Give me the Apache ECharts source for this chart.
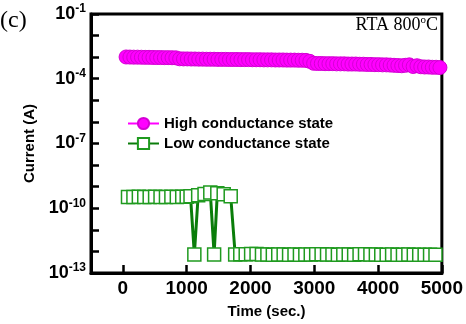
<!DOCTYPE html>
<html>
<head>
<meta charset="utf-8">
<title>RTA 800C retention</title>
<script src="https://cdn.jsdelivr.net/npm/echarts@6/dist/echarts.min.js"></script>
<style>
	html, body { margin: 0; padding: 0; background: #fff; }
	#main { width: 466px; height: 324px; }
</style>
</head>
<body>
<div id="main"></div>
<script>
// 数据
var xTicks = [0, 1000, 2000, 3000, 4000, 5000];

var highTime = [50, 110, 170, 230, 290, 350, 410, 470, 530, 590, 650, 710, 770, 830, 890, 950,
	1010, 1070, 1130, 1190, 1250, 1310, 1370, 1430, 1490, 1550, 1610, 1670, 1730, 1790, 1850, 1910, 1970,
	2030, 2090, 2150, 2210, 2270, 2330, 2390, 2450, 2510, 2570, 2630, 2690, 2750, 2810, 2870, 2930, 2990,
	3050, 3110, 3170, 3230, 3290, 3350, 3410, 3470, 3530, 3590, 3650, 3710, 3770, 3830, 3890, 3950,
	4010, 4070, 4130, 4190, 4250, 4310, 4370, 4430, 4490, 4550, 4610, 4670, 4730, 4790, 4850, 4910, 4970];
var highCurrent = [1.02e-3, 1.01e-3, 1.0e-3, 1.0e-3, 9.9e-4, 9.8e-4, 9.8e-4, 9.7e-4, 9.6e-4, 9.6e-4, 9.5e-4, 9.5e-4, 9.4e-4, 9.3e-4, 8.4e-4, 8.3e-4,
	8.3e-4, 8.2e-4, 8.2e-4, 8.1e-4, 8.1e-4, 8.0e-4, 8.0e-4, 8.0e-4, 7.9e-4, 7.9e-4, 7.9e-4, 7.8e-4, 7.8e-4, 7.8e-4, 7.7e-4, 7.7e-4, 7.7e-4,
	7.6e-4, 7.6e-4, 7.6e-4, 7.5e-4, 7.5e-4, 7.5e-4, 7.4e-4, 7.4e-4, 7.4e-4, 7.3e-4, 7.3e-4, 7.3e-4, 7.2e-4, 7.2e-4, 7.1e-4, 6.4e-4, 5.2e-4,
	5.1e-4, 5.1e-4, 5.0e-4, 5.0e-4, 5.0e-4, 4.9e-4, 4.9e-4, 4.9e-4, 4.8e-4, 4.8e-4, 4.8e-4, 4.7e-4, 4.7e-4, 4.6e-4, 4.6e-4, 4.5e-4,
	4.5e-4, 4.4e-4, 4.4e-4, 4.3e-4, 4.2e-4, 4.1e-4, 4.0e-4, 4.2e-4, 4.4e-4, 3.7e-4, 4.0e-4, 3.6e-4, 3.5e-4, 3.5e-4, 3.4e-4, 3.4e-4, 3.3e-4];

var lowTime = [80, 165, 250, 335, 420, 505, 590, 675, 760, 845, 930,
	1000, 1060, 1120, 1180, 1280, 1370, 1430, 1480, 1580, 1690, 1760,
	1840, 1925, 2010, 2095, 2180, 2265, 2350, 2435, 2520, 2605, 2690, 2775, 2860, 2945,
	3030, 3115, 3200, 3285, 3370, 3455, 3540, 3625, 3710, 3795, 3880, 3965,
	4050, 4135, 4220, 4305, 4390, 4475, 4560, 4645, 4730, 4815, 4900];
var lowCurrent = [3.3e-10, 3.3e-10, 3.4e-10, 3.3e-10, 3.3e-10, 3.4e-10, 3.3e-10, 3.3e-10, 3.4e-10, 3.3e-10, 3.4e-10,
	3.4e-10, 3.6e-10, 7.2e-13, 4.0e-10, 4.6e-10, 5.4e-10, 7.2e-13, 5.0e-10, 4.4e-10, 3.6e-10, 7.2e-13,
	7.4e-13, 7.3e-13, 7.6e-13, 7.5e-13, 7.2e-13, 7.2e-13, 7.1e-13, 7.2e-13, 7.2e-13, 7.1e-13, 7.2e-13, 7.1e-13, 7.2e-13, 7.2e-13,
	7.4e-13, 7.3e-13, 7.2e-13, 7.2e-13, 7.1e-13, 7.2e-13, 7.2e-13, 7.1e-13, 7.4e-13, 7.3e-13, 7.2e-13, 7.2e-13,
	7.1e-13, 7.1e-13, 7.2e-13, 7.1e-13, 7.1e-13, 7.2e-13, 7.1e-13, 7.1e-13, 7.1e-13, 7.0e-13, 7.1e-13];

function pairs(xs, ys) {
	var out = [];
	for (var i = 0; i < xs.length; i++) {
		out.push([xs[i], ys[i]]);
	}
	return out;
}

var chart = echarts.init(document.getElementById('main'), null, { renderer: 'canvas' });
var font = 'Liberation Sans';
var serif = 'Liberation Serif';

var option = {
	animation: false,
	backgroundColor: '#fff',
	grid: {
		left: 91,
		right: 21,
		top: 14,
		bottom: 51,
		show: true,
		borderColor: '#000',
		borderWidth: 3,
		backgroundColor: 'transparent'
	},
	legend: {
		orient: 'vertical',
		left: 127,
		top: 116,
		padding: 0,
		itemWidth: 31,
		itemHeight: 14,
		itemGap: 5,
		textStyle: {
			fontFamily: font,
			fontWeight: 'bold',
			fontSize: 15,
			color: '#000'
		},
		data: ['High conductance state', 'Low conductance state']
	},
	graphic: [
		{
			type: 'text',
			left: 0,
			top: 9,
			style: {
				text: '(c)',
				fontFamily: serif,
				fontSize: 24,
				fill: '#000'
			}
		},
		{
			type: 'text',
			right: 28,
			top: 15,
			style: {
				text: 'RTA 800{s|o}C',
				fontFamily: serif,
				fontSize: 18,
				fill: '#000',
				rich: {
					s: {
						fontFamily: serif,
						fontSize: 11,
						verticalAlign: 'top',
						lineHeight: 20
					}
				}
			}
		}
	],
	xAxis: {
		type: 'value',
		min: -500,
		max: 5000,
		name: 'Time (sec.)',
		nameLocation: 'middle',
		nameGap: 31,
		nameTextStyle: {
			fontFamily: font,
			fontWeight: 'bold',
			fontSize: 15,
			color: '#000'
		},
		splitLine: { show: false },
		axisLine: { onZero: false, lineStyle: { color: '#000', width: 3 } },
		axisTick: {
			show: true,
			inside: true,
			length: 8,
			lineStyle: { color: '#000', width: 2.5 },
			customValues: xTicks
		},
		axisLabel: {
			margin: 6,
			fontFamily: font,
			fontWeight: 'bold',
			fontSize: 19,
			color: '#000',
			customValues: xTicks,
			formatter: function(v) {
				return String(v);
			}
		}
	},
	yAxis: {
		type: 'log',
		logBase: 10,
		min: 1e-13,
		max: 1e-1,
		interval: 1,
		name: 'Current (A)',
		nameLocation: 'middle',
		nameGap: 52,
		nameTextStyle: {
			fontFamily: font,
			fontWeight: 'bold',
			fontSize: 15,
			color: '#000'
		},
		splitLine: { show: false },
		axisLine: { onZero: false, lineStyle: { color: '#000', width: 3 } },
		axisTick: {
			show: true,
			inside: true,
			length: 8,
			lineStyle: { color: '#000', width: 2.5 }
		},
		axisLabel: {
			margin: 5,
			color: '#000',
			formatter: function(v) {
				var e = Math.round(Math.log(v) / Math.LN10);
				if ((e + 1) % 3 !== 0) {
					return '';
				}
				return '{b|10}{s|' + e + '}';
			},
			rich: {
				b: {
					fontFamily: font,
					fontWeight: 'bold',
					fontSize: 18,
					lineHeight: 22,
					color: '#000'
				},
				s: {
					fontFamily: font,
					fontWeight: 'bold',
					fontSize: 12,
					verticalAlign: 'top',
					color: '#000'
				}
			}
		}
	},
	series: [
		{
			name: 'High conductance state',
			type: 'line',
			data: pairs(highTime, highCurrent),
			symbol: 'circle',
			symbolSize: 14,
			lineStyle: { color: '#ff00ff', width: 3 },
			itemStyle: { color: '#ff00ff', borderColor: '#d400d4', borderWidth: 1 }
		},
		{
			name: 'Low conductance state',
			type: 'line',
			data: pairs(lowTime, lowCurrent),
			symbol: 'rect',
			symbolSize: 13,
			lineStyle: { color: '#0a7d0a', width: 3 },
			itemStyle: { color: '#fff', borderColor: '#1f9a1f', borderWidth: 1.5 }
		}
	]
};

chart.setOption(option);
window.onresize = function() {
	chart.resize();
};
</script>
</body>
</html>
